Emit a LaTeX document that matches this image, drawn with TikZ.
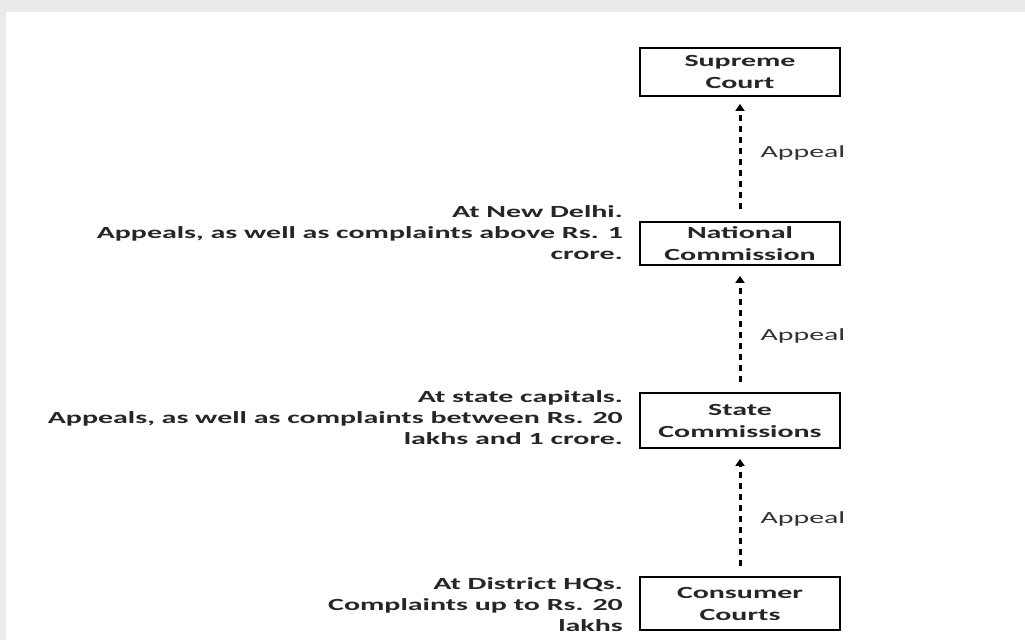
\documentclass[tikz,border=0pt]{standalone}
\usepackage{fontspec}
\setmainfont{Carlito}
\newfontfamily\wide[FakeStretch=1.76]{Carlito}
\usetikzlibrary{arrows.meta}
\begin{document}
\begin{tikzpicture}[x=1pt,y=-1pt,
  box/.style={draw=black, line width=1.8pt, minimum width=200pt, inner sep=0pt, align=center, text=black!85, font=\wide\bfseries\fontsize{17}{22}\selectfont},
  side/.style={anchor=east, align=right, inner sep=0pt, text=black!85, font=\wide\bfseries\fontsize{17}{21}\selectfont},
  lbl/.style={anchor=west, inner sep=0pt, text=black!80, font=\wide\fontsize{17}{21}\selectfont},
  appeal/.style={line width=3pt, dash pattern=on 6pt off 5pt, -{Triangle[width=9pt,length=7pt]}}]
\useasboundingbox (0,0) rectangle (1025,640);
\fill[black!8] (0,0) rectangle (1025,640);
\fill[white] (6,12) rectangle (1025,640);

\node[box, minimum height=48pt] (sc) at (740,72) {Supreme\\Court};
\node[box, minimum height=43pt] (nc) at (740,243.5) {National\\Commission};
\node[box, minimum height=55pt] (st) at (740,420.5) {State\\Commissions};
\node[box, minimum height=53pt] (cc) at (740,603.5) {Consumer\\Courts};

\node[side] (ncs) at (623,233) {At New Delhi.\\Appeals, as well as complaints above Rs. 1\\crore.};
\node[side] (sts) at (623,418) {At state capitals.\\Appeals, as well as complaints between Rs. 20\\lakhs and 1 crore.};
\node[side] (ccs) at (623,605) {At District HQs.\\Complaints up to Rs. 20\\lakhs};

\draw[appeal] ([yshift=12pt]nc.north) -- node[pos=0.53, lbl, xshift=19pt] (a1) {Appeal} ([yshift=-7pt]sc.south);
\draw[appeal] ([yshift=10pt]st.north) -- node[pos=0.43, lbl, xshift=19pt] (a2) {Appeal} ([yshift=-10pt]nc.south);
\draw[appeal] ([yshift=10pt]cc.north) -- node[pos=0.44, lbl, xshift=19pt] (a3) {Appeal} ([yshift=-10pt]st.south);
\end{tikzpicture}
\end{document}
